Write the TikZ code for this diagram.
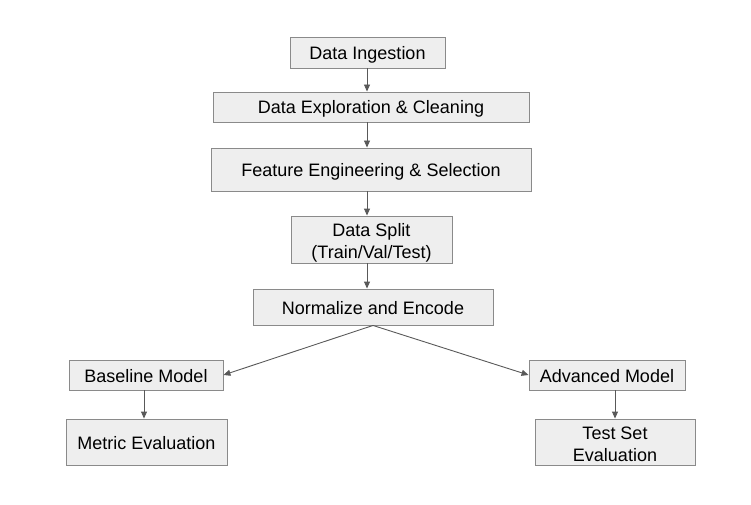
\documentclass[tikz,border=0pt]{standalone}
\usepackage{fontspec}
\setmainfont{Liberation Sans}
\usetikzlibrary{arrows.meta}

\definecolor{boxfill}{HTML}{EEEEEE}
\definecolor{boxline}{HTML}{8A8A8A}
\definecolor{arrline}{HTML}{595959}

\tikzset{
  stage/.style={draw=boxline, fill=boxfill, line width=0.9pt, align=center,
    inner sep=0pt, font=\fontsize{18}{22}\selectfont},
  oneline/.style={stage, text height=18pt, text depth=4pt},
  twoline/.style={stage, text height=42pt, text depth=4pt},
  flow/.style={draw=arrline, line width=0.9pt, -{Triangle[length=7pt,width=6pt]}}
}

\begin{document}
\begin{tikzpicture}[x=1pt,y=-1pt]
   \useasboundingbox (0,0) rectangle (751,505);

   % main column
   \node[oneline, minimum width=155pt, minimum height=31pt] (ingest) at (367.5,52.5) {Data Ingestion};
   \node[oneline, minimum width=316pt, minimum height=30pt] (explore) at (371,107) {Data Exploration \& Cleaning};
   \node[oneline, minimum width=320pt, minimum height=43pt] (feature) at (371,169.5) {Feature Engineering \& Selection};
   \node[twoline, minimum width=161pt, minimum height=47pt] (split) at (371.5,239.5) {Data Split\\(Train/Val/Test)};
   \node[oneline, minimum width=240pt, minimum height=36pt] (normalize) at (373,307) {Normalize and Encode};

   % two branches
   \node[oneline, minimum width=154pt, minimum height=30pt] (baseline) at (146,375) {Baseline Model};
   \node[oneline, minimum width=161pt, minimum height=46pt] (metric) at (146.5,442) {Metric Evaluation};
   \node[oneline, minimum width=156pt, minimum height=30pt] (advanced) at (607,375) {Advanced Model};
   \node[twoline, minimum width=160pt, minimum height=46pt] (testset) at (615,442) {Test Set\\Evaluation};

   \coordinate (spine) at (367,0);
   \coordinate (leftarm) at (144,0);
   \coordinate (rightarm) at (615,0);
   \draw[flow] (spine |- ingest.south) -- (spine |- explore.north);
   \draw[flow] (spine |- explore.south) -- (spine |- feature.north);
   \draw[flow] (spine |- feature.south) -- (spine |- split.north);
   \draw[flow] (spine |- split.south) -- (spine |- normalize.north);

   \draw[flow] (normalize.south) -- (baseline.east);
   \draw[flow] (normalize.south) -- (advanced.west);

   \draw[flow] (leftarm |- baseline.south) -- (leftarm |- metric.north);
   \draw[flow] (rightarm |- advanced.south) -- (rightarm |- testset.north);
\end{tikzpicture}
\end{document}
